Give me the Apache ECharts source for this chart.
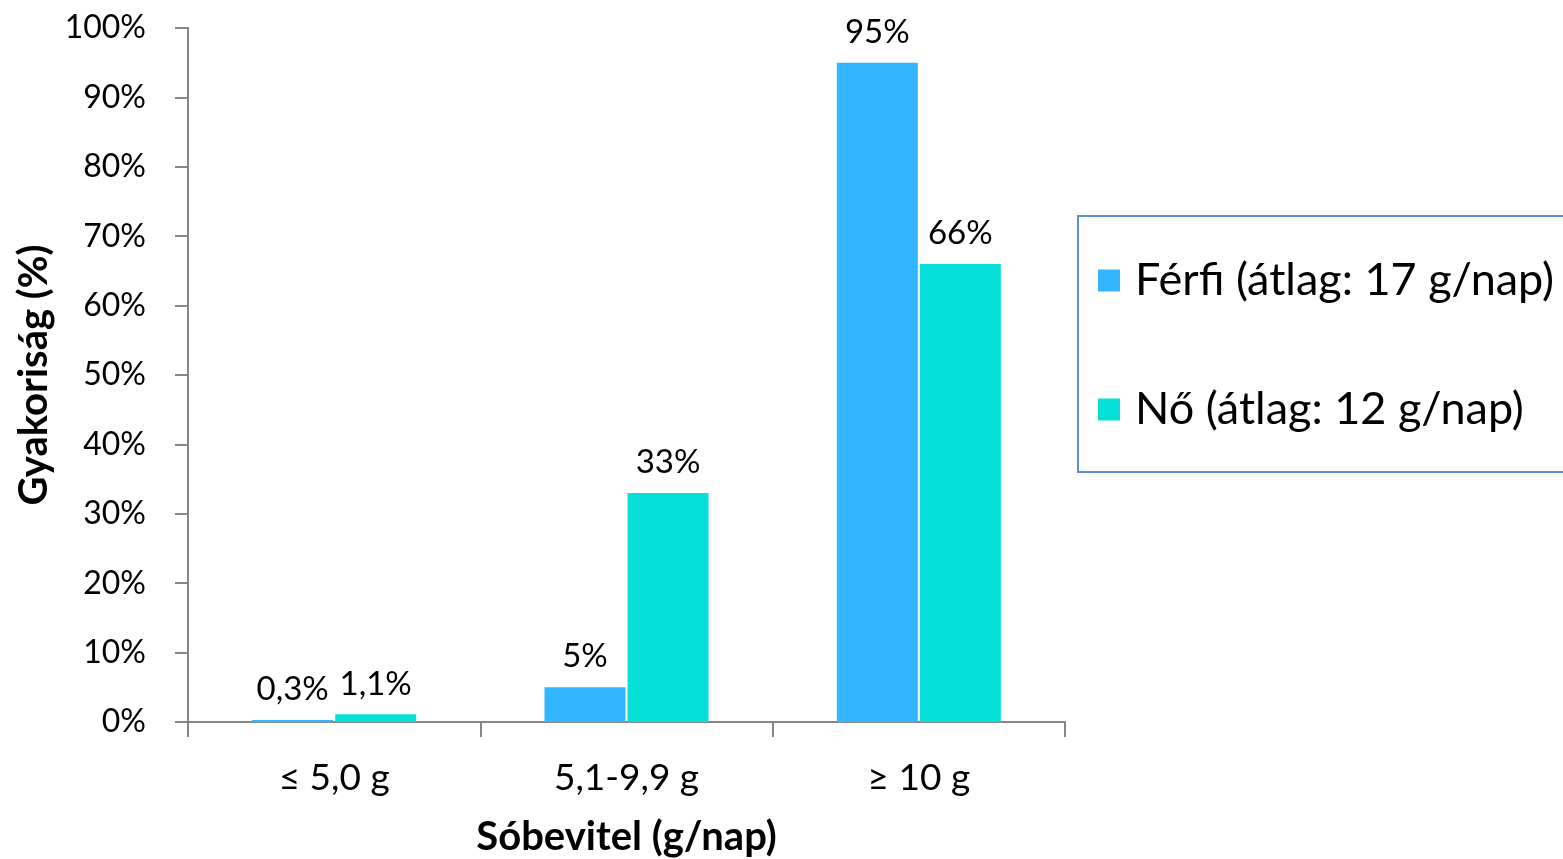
<!DOCTYPE html>
<html>
<head>
<meta charset="utf-8">
<script src="https://cdn.jsdelivr.net/npm/echarts@6/dist/echarts.min.js"></script>
<style>
  html, body { margin: 0; padding: 0; background: #fff; overflow: hidden; }
  #chart { width: 1563px; height: 859px; }
</style>
</head>
<body>
<div id="chart"></div>
<script>
// Salt intake categories and share of respondents (%)
const categories = ['≤ 5,0 g', '5,1-9,9 g', '≥ 10 g'];
const seriesNames = ['Férfi (átlag: 17 g/nap)', 'Nő (átlag: 12 g/nap)'];
const ferfiValues = [0.3, 5, 95];
const noValues = [1.1, 33, 66];
const yTicks = { min: 0, max: 100, interval: 10 };

const FONT = 'Lato, "Open Sans", sans-serif';
const AXIS_GREY = '#868686';
const COLORS = ['#33B5FF', '#07E0D8'];

const pct = v => String(v).replace('.', ',') + '%';

const barLabel = {
  show: true,
  position: 'top',
  distance: 14,
  color: '#000',
  fontFamily: FONT,
  fontSize: 33,
  formatter: p => pct(p.value)
};

const chart = echarts.init(document.getElementById('chart'));
chart.setOption({
  animation: false,
  backgroundColor: '#fff',
  textStyle: { fontFamily: FONT, color: '#000' },
  grid: {
    left: 188, top: 28, right: 498, bottom: 137,
    containLabel: false,
    outerBoundsMode: 'none'
  },
  legend: {
    orient: 'vertical',
    left: 1078,
    top: 216,
    padding: [42, 60, 40, 20],
    itemGap: 84,
    itemWidth: 22,
    itemHeight: 22,
    icon: 'rect',
    borderColor: '#5B8FD9',
    borderWidth: 2,
    textStyle: { fontFamily: FONT, fontSize: 45, color: '#000', padding: [0, 0, 0, 10] },
    data: seriesNames
  },
  xAxis: {
    type: 'category',
    data: categories,
    name: 'Sóbevitel (g/nap)',
    nameLocation: 'middle',
    nameGap: 95,
    nameTextStyle: { fontFamily: FONT, fontSize: 40, fontWeight: 'bold', color: '#000' },
    axisLine: { lineStyle: { color: AXIS_GREY, width: 2 } },
    axisTick: { show: true, length: 15, lineStyle: { color: AXIS_GREY, width: 2 } },
    axisLabel: { margin: 38, fontFamily: FONT, fontSize: 37, color: '#000' },
    splitLine: { show: false }
  },
  yAxis: {
    type: 'value',
    min: yTicks.min,
    max: yTicks.max,
    interval: yTicks.interval,
    name: 'Gyakoriság (%)',
    nameLocation: 'middle',
    nameGap: 133,
    nameRotate: 90,
    nameTextStyle: { fontFamily: FONT, fontSize: 40, fontWeight: 'bold', color: '#000' },
    axisLine: { show: true, lineStyle: { color: AXIS_GREY, width: 2 } },
    axisTick: { show: true, length: 13, lineStyle: { color: AXIS_GREY, width: 2 } },
    axisLabel: { margin: 42, fontFamily: FONT, fontSize: 32, color: '#000', formatter: '{value}%' },
    splitLine: { show: false }
  },
  series: [
    {
      name: seriesNames[0],
      type: 'bar',
      data: ferfiValues,
      barWidth: 81,
      barGap: '2.5%',
      itemStyle: { color: COLORS[0] },
      label: barLabel
    },
    {
      name: seriesNames[1],
      type: 'bar',
      data: noValues,
      barWidth: 81,
      itemStyle: { color: COLORS[1] },
      label: barLabel
    }
  ]
});
</script>
</body>
</html>
